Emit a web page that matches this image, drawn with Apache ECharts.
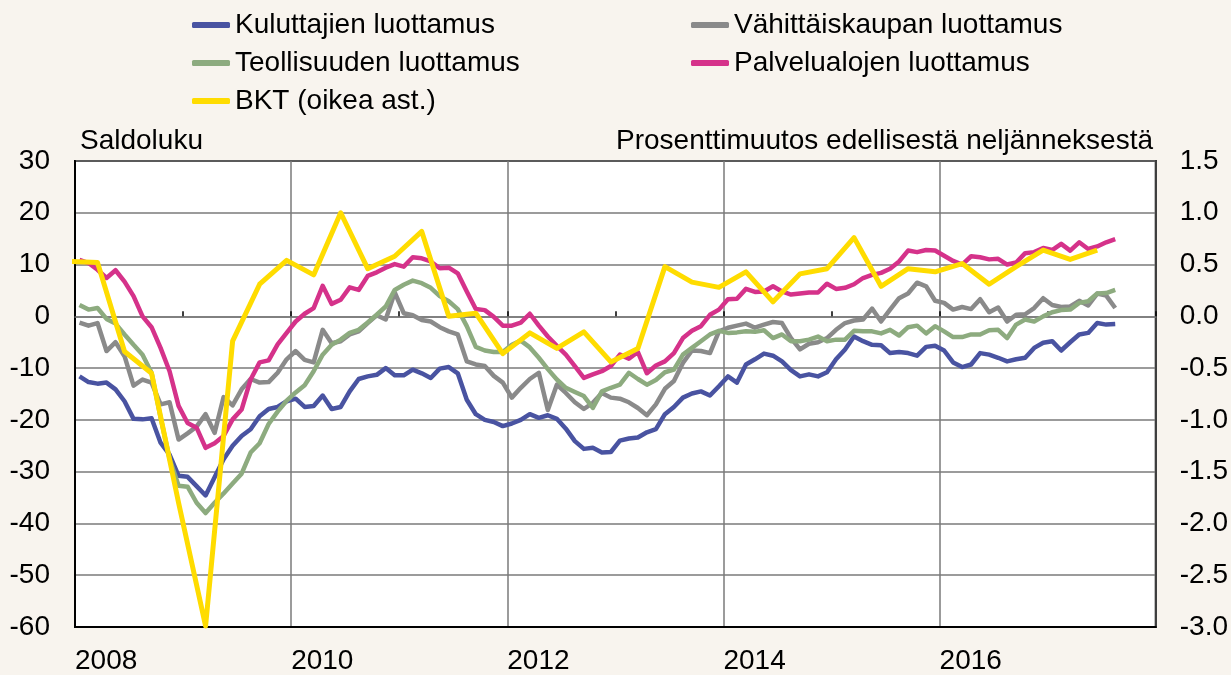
<!DOCTYPE html>
<html>
<head>
<meta charset="utf-8">
<script src="https://cdn.jsdelivr.net/npm/echarts@6/dist/echarts.min.js"></script>
<style>
html,body{margin:0;padding:0;background:#f8f4ee;}
#c{width:1231px;height:675px;}
</style>
</head>
<body>
<div id="c"></div>
<script>
// Monthly survey balances, Jan 2008 .. Aug 2017
const startYear = 2008;
const kuluttajat = [
 -11.6,-12.7,-13.0,-12.8,-14.1,-16.4,-19.8,-19.9,-19.7,-24.4,-26.7,-30.8,
 -31.0,-32.8,-34.6,-31.1,-27.6,-25.0,-23.1,-21.8,-19.3,-17.9,-17.5,-16.4,
 -15.9,-17.5,-17.3,-15.3,-17.9,-17.5,-14.5,-12.1,-11.6,-11.3,-10.0,-11.4,
 -11.4,-10.3,-11.0,-11.9,-10.1,-9.8,-11.0,-16.1,-18.9,-20.0,-20.4,-21.2,
 -20.7,-20.0,-18.9,-19.6,-19.1,-19.8,-21.7,-24.1,-25.6,-25.4,-26.3,-26.2,
 -24.0,-23.6,-23.4,-22.4,-21.8,-18.9,-17.5,-15.7,-14.9,-14.5,-15.3,-13.5,
 -11.6,-12.8,-9.3,-8.3,-7.2,-7.6,-8.7,-10.4,-11.6,-11.2,-11.6,-10.8,
 -8.3,-6.4,-3.9,-4.8,-5.5,-5.6,-7.1,-6.9,-7.1,-7.6,-5.9,-5.7,
 -6.6,-8.9,-9.8,-9.3,-7.1,-7.4,-8.0,-8.7,-8.3,-8.0,-6.1,-5.1,
 -4.8,-6.6,-5.0,-3.5,-3.2,-1.3,-1.6,-1.5
];
const vahittais = [
 -1.2,-1.8,-1.3,-6.7,-5.0,-7.7,-13.4,-12.2,-12.8,-17.0,-16.6,-23.8,
 -22.6,-21.3,-18.9,-22.5,-15.6,-17.2,-14.1,-12.1,-12.8,-12.7,-10.9,-8.3,
 -6.7,-8.4,-8.9,-2.6,-5.2,-4.8,-3.5,-2.9,-1.3,0.2,-0.6,4.6,
 0.6,0.2,-0.7,-1.0,-2.1,-2.9,-3.5,-8.7,-9.3,-9.6,-11.5,-12.8,
 -15.7,-13.8,-12.1,-10.9,-18.1,-13.2,-14.8,-16.6,-17.9,-16.7,-14.8,-15.7,
 -15.9,-16.6,-17.7,-19.1,-17.0,-14.0,-12.5,-9.0,-6.6,-6.7,-7.1,-2.9,
 -2.2,-1.8,-1.4,-2.2,-1.6,-1.1,-1.3,-4.2,-6.4,-5.3,-5.0,-4.2,
 -2.6,-1.3,-0.8,-0.6,1.5,-1.0,1.3,3.5,4.4,6.5,5.8,3.0,
 2.6,1.3,1.8,1.4,3.3,0.8,1.7,-1.0,0.3,0.4,1.6,3.5,
 2.2,1.8,1.9,3.0,2.1,4.4,4.0,1.6
];
const teollisuus = [
 2.2,1.3,1.6,-0.5,-1.4,-3.5,-5.5,-7.4,-10.9,-19.5,-27.5,-32.7,
 -32.9,-36.0,-38.0,-36.0,-34.2,-32.3,-30.4,-26.3,-24.5,-20.8,-18.4,-16.3,
 -14.7,-13.3,-10.6,-7.4,-5.5,-4.5,-3.2,-2.6,-1.2,0.3,1.9,5.1,
 6.1,6.9,6.4,5.5,3.9,2.9,1.4,-1.9,-5.9,-6.6,-6.9,-6.9,
 -5.5,-4.7,-6.0,-8.0,-10.2,-12.2,-13.8,-14.6,-15.4,-17.7,-14.5,-13.8,
 -13.2,-10.9,-12.1,-13.2,-12.3,-10.8,-10.3,-7.4,-6.1,-4.8,-3.5,-2.8,
 -3.2,-3.1,-2.9,-3.0,-2.7,-4.2,-3.5,-4.8,-4.8,-4.5,-3.9,-4.8,
 -4.5,-4.5,-2.8,-2.9,-2.9,-3.3,-2.6,-3.7,-2.1,-1.8,-3.3,-1.9,
 -2.9,-4.0,-4.0,-3.5,-3.5,-2.7,-2.6,-4.2,-1.6,-0.6,-1.0,0.0,
 0.8,1.2,1.3,2.6,2.9,4.4,4.5,5.1
];
const palvelut = [
 10.9,10.3,9.0,7.4,8.9,6.7,3.9,0.0,-2.1,-6.1,-10.6,-17.3,
 -20.6,-21.5,-25.4,-24.5,-23.1,-19.9,-18.0,-12.2,-8.9,-8.5,-5.4,-3.2,
 -1.0,0.5,1.6,5.9,2.4,3.2,5.6,5.1,7.8,8.5,9.4,10.1,
 9.6,11.4,11.2,10.6,9.3,9.4,8.3,4.8,1.4,1.2,-0.1,-1.8,
 -1.8,-1.2,0.5,-1.8,-3.9,-5.7,-7.4,-9.6,-11.9,-11.2,-10.6,-9.6,
 -7.4,-8.2,-6.9,-11.0,-9.5,-8.7,-7.1,-4.2,-2.8,-1.9,0.3,1.3,
 3.3,3.4,5.3,4.7,4.8,5.8,4.8,4.2,4.4,4.6,4.6,6.3,
 5.3,5.5,6.2,7.4,8.0,8.4,9.2,10.6,12.7,12.4,12.8,12.7,
 11.7,10.7,10.0,11.6,11.4,11.0,11.1,10.0,10.4,12.2,12.4,13.2,
 12.8,14.0,12.7,14.3,13.0,13.5,14.3,14.9
];
// Quarterly GDP change (%), Q4 2007 .. Q2 2017
const bktStartQuarter = -1; // Q4 2007
const bkt = [
 0.53,
 0.52,-0.34,-0.55,-1.80,
 -2.99,-0.24,0.31,0.54,
 0.40,1.00,0.46,0.58,
 0.82,0.00,0.03,-0.36,
 -0.16,-0.31,-0.15,-0.44,
 -0.31,0.48,0.33,0.28,
 0.43,0.14,0.41,0.46,
 0.76,0.29,0.46,0.43,
 0.51,0.31,0.48,0.64,
 0.55,0.64
];
const leftTicks = {min:-60, max:30, step:10};
const rightTicks = {min:-3, max:1.5, step:0.5};
const yearLabels = [2008, 2010, 2012, 2014, 2016];

const names = ['Kuluttajien luottamus','Vähittäiskaupan luottamus','Teollisuuden luottamus','Palvelualojen luottamus','BKT (oikea ast.)'];
const colors = ['#4953a1','#8a8a8a','#8dab7f','#d5328a','#ffdc00'];

function monthly(arr){ return arr.map((v,i)=>[startYear + (i+0.5)/12, v]); }
function quarterly(arr){ return arr.map((v,i)=>[startYear + (3*(i+bktStartQuarter)+2.5)/12, v]); }

const FONT = '"Liberation Sans", Arial, sans-serif';
const FS = 28;
const chart = echarts.init(document.getElementById('c'), null, {renderer:'canvas'});
const lineSeries = (name, data, color, yi, w) => ({
  name, type:'line', data, xAxisIndex:0, yAxisIndex:yi, showSymbol:false, symbol:'none',
  clip:true, smooth:false, color, lineStyle:{color, width:w, join:'round'}, emphasis:{disabled:true}, z: 3
});
const legendText = {fontSize:FS, color:'#000', fontFamily:FONT, lineHeight:30};
chart.setOption({
  backgroundColor:'#f8f4ee',
  animation:false,
  textStyle:{fontFamily:FONT},
  grid:{left:75, right:75, top:161, bottom:47, show:true, backgroundColor:'#ffffff', borderColor:'#000', borderWidth:2, containLabel:false},
  legend:[
    {data:[names[0],names[2],names[4]], orient:'vertical', left:187, top:5, itemWidth:38, itemHeight:6, itemGap:8, icon:'roundRect',
     textStyle:legendText, selectedMode:false},
    {data:[names[1],names[3]], orient:'vertical', left:686, top:5, itemWidth:38, itemHeight:6, itemGap:8, icon:'roundRect',
     textStyle:legendText, selectedMode:false}
  ],
  xAxis:[
    {type:'value', min:2008, max:2018, interval:2, position:'bottom',
     axisLine:{show:true, onZero:false, lineStyle:{color:'#000', width:2}},
     axisTick:{show:false},
     axisLabel:{show:true, align:'left', margin:20, fontSize:FS, color:'#000', fontFamily:FONT,
       formatter:v=> yearLabels.indexOf(v)>=0 ? String(v) : ''},
     splitLine:{show:true, lineStyle:{color:'#7a7a7a', width:1.5}}},
    {type:'value', min:2008, max:2018, interval:1, position:'top',
     axisLine:{show:true, onZero:true, onZeroAxisIndex:0, lineStyle:{color:'#7a7a7a', width:1.5}},
     axisTick:{show:true, inside:false, length:5, lineStyle:{color:'#000', width:1.5}},
     axisLabel:{show:false}, splitLine:{show:false}}
  ],
  yAxis:[
    {type:'value', min:leftTicks.min, max:leftTicks.max, interval:leftTicks.step, position:'left',
     axisLine:{show:true, lineStyle:{color:'#000', width:2}}, axisTick:{show:false},
     axisLabel:{fontSize:FS, color:'#000', margin:25, fontFamily:FONT},
     splitLine:{show:true, lineStyle:{color:'#7a7a7a', width:1.5}}},
    {type:'value', min:rightTicks.min, max:rightTicks.max, interval:rightTicks.step, position:'right',
     axisLine:{show:true, lineStyle:{color:'#333', width:1.5}}, axisTick:{show:false},
     axisLabel:{fontSize:FS, color:'#000', margin:24, fontFamily:FONT, formatter:v=>v.toFixed(1)},
     splitLine:{show:false}}
  ],
  graphic:[
    {type:'text', left:80, top:127, style:{text:'Saldoluku', font:FS+'px '+FONT, fill:'#000'}},
    {type:'text', right:78, top:127, style:{text:'Prosenttimuutos edellisestä neljänneksestä', font:FS+'px '+FONT, fill:'#000'}}
  ],
  series:[
    lineSeries(names[0], monthly(kuluttajat), colors[0], 0, 4.5),
    lineSeries(names[1], monthly(vahittais), colors[1], 0, 4.5),
    lineSeries(names[2], monthly(teollisuus), colors[2], 0, 4.5),
    lineSeries(names[3], monthly(palvelut), colors[3], 0, 4.5),
    lineSeries(names[4], quarterly(bkt), colors[4], 1, 5)
  ]
});
</script>
</body>
</html>
